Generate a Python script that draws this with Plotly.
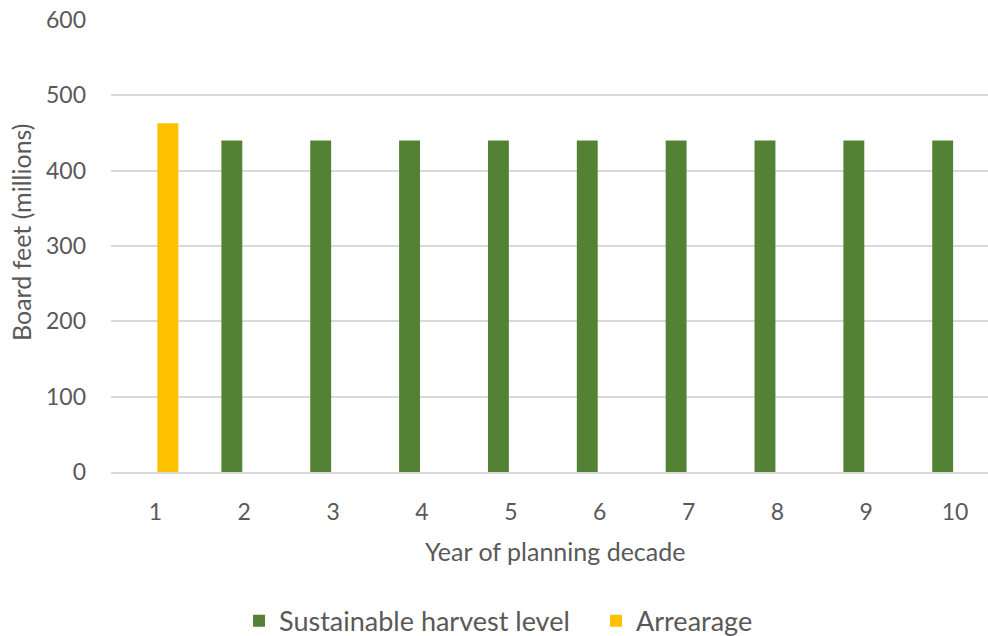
import plotly.graph_objects as go

# Planning-decade years and harvest volumes (millions of board feet)
years = ["1", "2", "3", "4", "5", "6", "7", "8", "9", "10"]
sustainable = [None, 440, 440, 440, 440, 440, 440, 440, 440, 440]
arrearage = [463, None, None, None, None, None, None, None, None, None]
y_ticks = [0, 100, 200, 300, 400, 500, 600]

FONT = "Lato, 'Open Sans', sans-serif"
GREY = "#595959"
GRID = "#d9d9d9"

fig = go.Figure()
fig.add_trace(go.Bar(x=years, y=sustainable, name="Sustainable harvest level",
                     marker=dict(color="#548235", line=dict(width=0))))
fig.add_trace(go.Bar(x=years, y=arrearage, name="Arrearage",
                     marker=dict(color="#ffc000", line=dict(width=0))))

fig.update_layout(
    width=988, height=636,
    margin=dict(l=111, r=0, t=20, b=164, autoexpand=False),
    paper_bgcolor="white", plot_bgcolor="white",
    barmode="group", bargap=0.44, bargroupgap=0.16,
    font=dict(family=FONT, color=GREY, size=23),
    showlegend=True,
    legend=dict(orientation="h", xref="paper", yref="paper",
                x=0.146, xanchor="left", y=-0.33, yanchor="middle",
                font=dict(size=27, color=GREY), entrywidth=312,
                entrywidthmode="pixels", traceorder="normal"),
    xaxis=dict(type="category", range=[-0.5, 9.37],
               showgrid=False, showline=True, linecolor=GRID, linewidth=2,
               ticks="", tickfont=dict(size=23, color=GREY), ticklabelstandoff=18),
    yaxis=dict(range=[0, 600], tickvals=y_ticks, showgrid=True, gridcolor=GRID,
               gridwidth=1.5, zeroline=False, showline=False, ticks="",
               tickfont=dict(size=23, color=GREY), ticklabelstandoff=24),
    annotations=[
        dict(text="Year of planning decade", xref="x", yref="paper",
             x=4.5, y=-0.175, xanchor="center", yanchor="middle",
             showarrow=False, font=dict(size=25, color=GREY)),
        dict(text="Board feet (millions)", textangle=-90, xref="paper", yref="paper",
             x=-0.102, y=0.53, xanchor="center", yanchor="middle",
             showarrow=False, font=dict(size=25, color=GREY)),
    ],
)

fig.write_html("out.html")
